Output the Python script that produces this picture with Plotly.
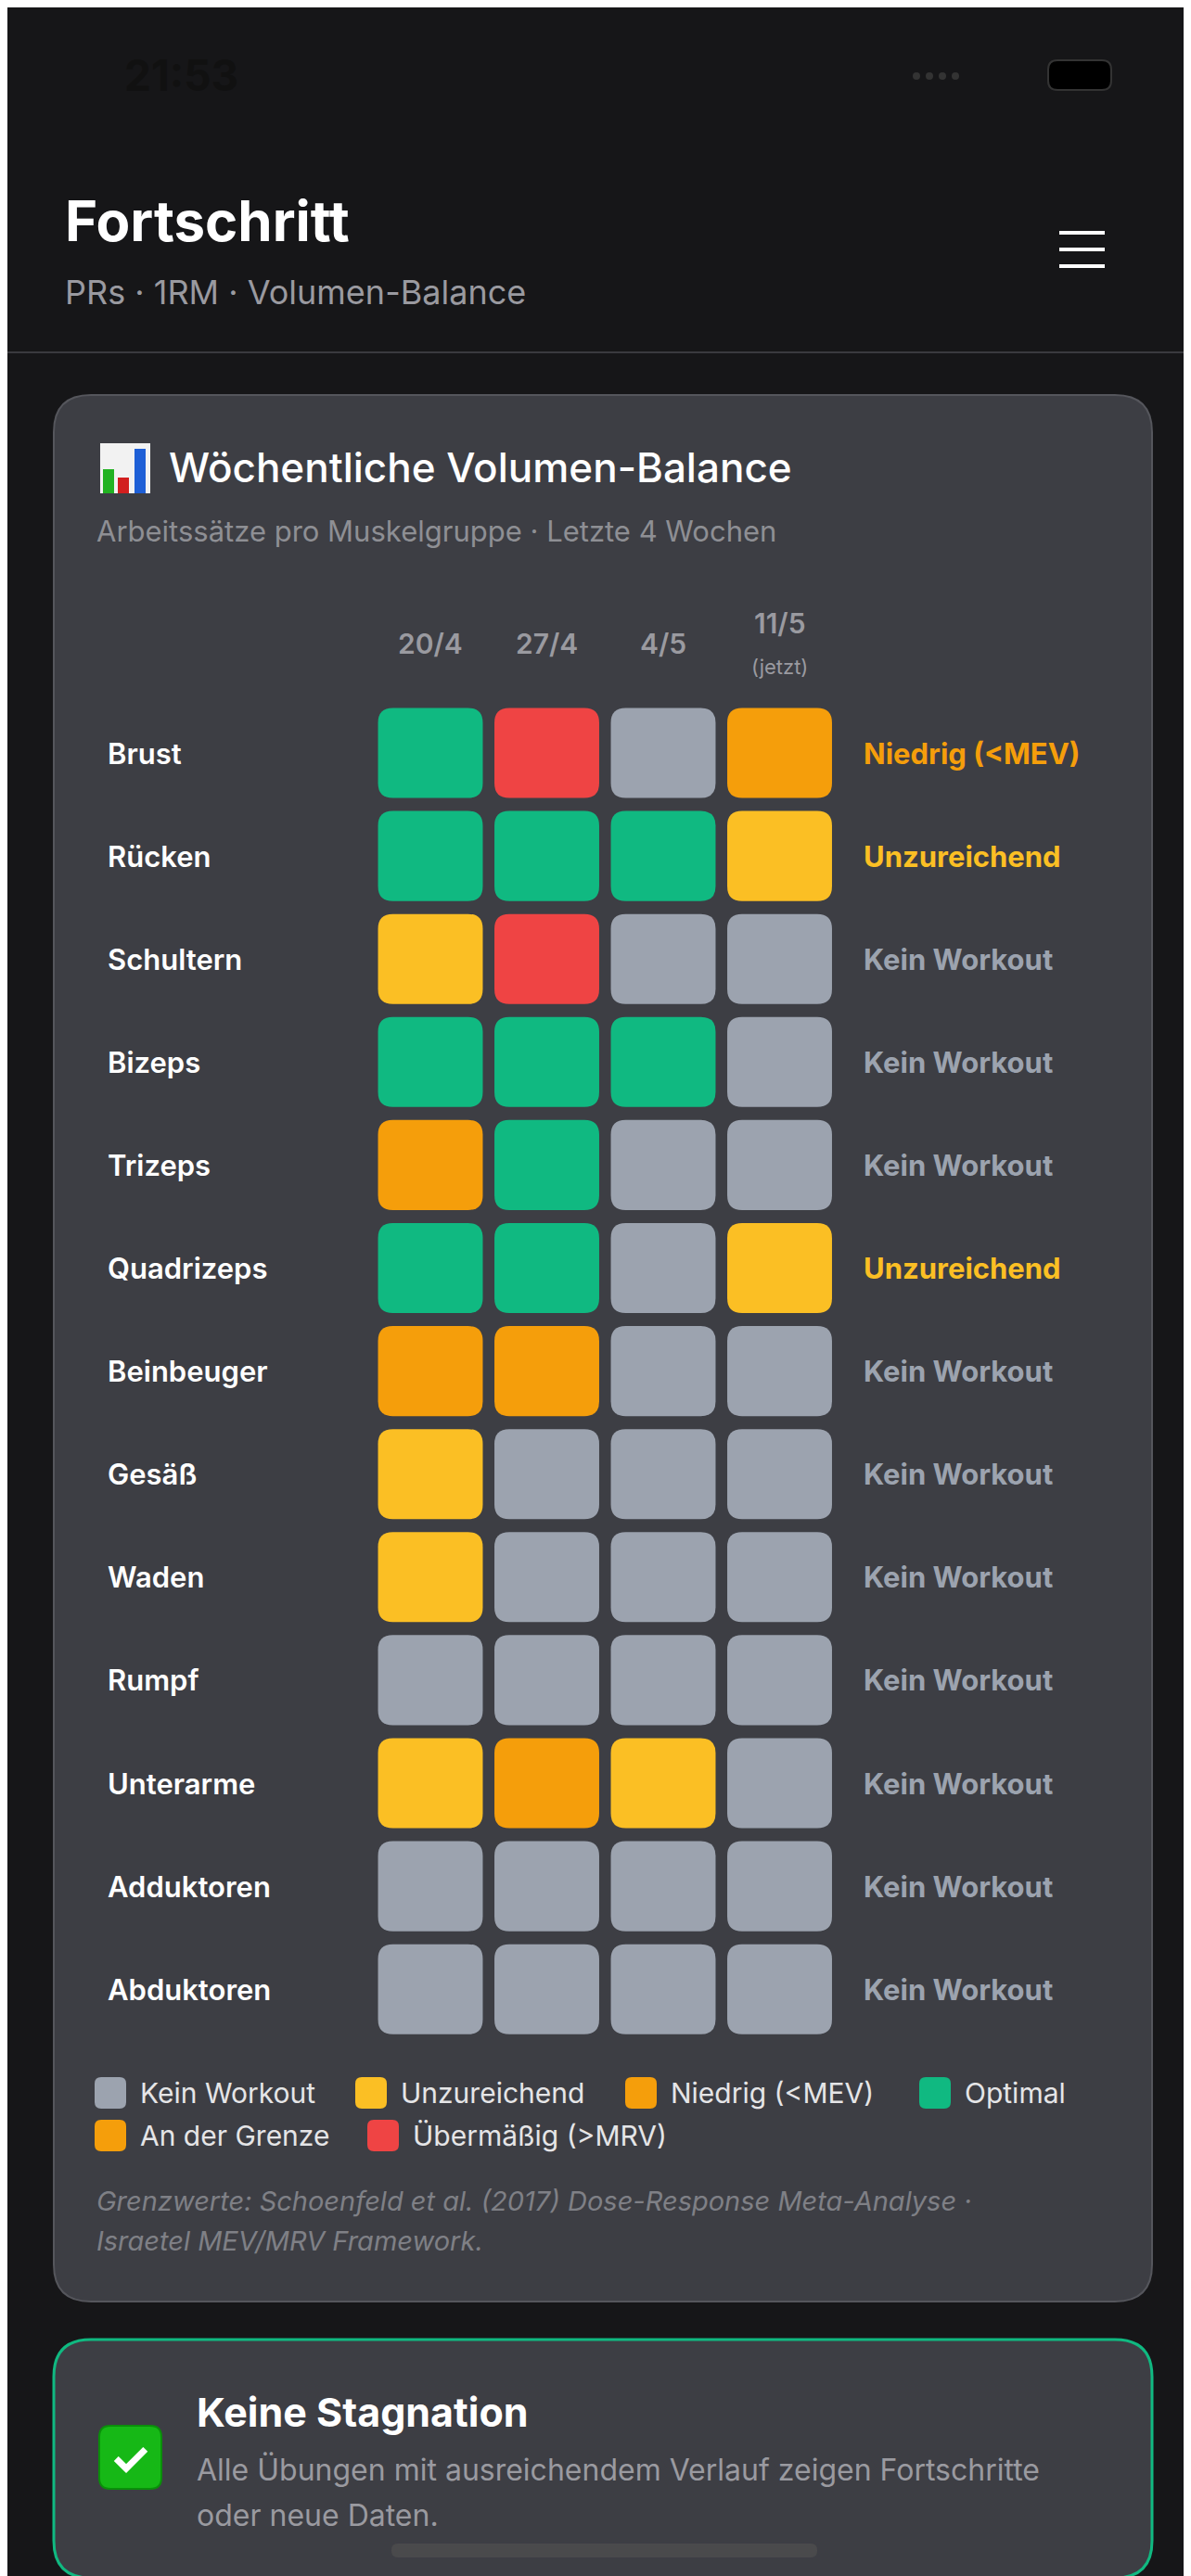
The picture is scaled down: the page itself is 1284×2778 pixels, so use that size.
import plotly.graph_objects as go

# ---- data ----
weeks = ["20/4", "27/4", "4/5", "11/5"]
muscles = ["Brust", "Rücken", "Schultern", "Bizeps", "Trizeps", "Quadrizeps",
           "Beinbeuger", "Gesäß", "Waden", "Rumpf", "Unterarme", "Adduktoren", "Abduktoren"]
sets = [
    [12, 28, 0, 5],
    [15, 20, 16, 1],
    [4, 27, 0, 0],
    [11, 11, 11, 0],
    [9, 16, 0, 0],
    [11, 13, 0, 3],
    [8, 8, 0, 0],
    [3, 0, 0, 0],
    [4, 0, 0, 0],
    [0, 0, 0, 0],
    [4, 6, 4, 0],
    [0, 0, 0, 0],
    [0, 0, 0, 0],
]
# K=Kein Workout, U=Unzureichend, N=Niedrig, O=Optimal, G=An der Grenze, X=Übermäßig
levels = [
    "OXKN", "OOOU", "UXKK", "OOOK", "GOKK", "OOKU", "GGKK",
    "UKKK", "UKKK", "KKKK", "UGUK", "KKKK", "KKKK",
]
status = ["Niedrig (<MEV)", "Unzureichend", "Kein Workout", "Kein Workout", "Kein Workout",
          "Unzureichend", "Kein Workout", "Kein Workout", "Kein Workout", "Kein Workout",
          "Kein Workout", "Kein Workout", "Kein Workout"]
legend_items = [("K", "Kein Workout"), ("U", "Unzureichend"), ("N", "Niedrig (<MEV)"),
                ("O", "Optimal"), ("G", "An der Grenze"), ("X", "Übermäßig (>MRV)")]

colors = {"K": "#9ca3af", "U": "#fbbf24", "N": "#f59e0b", "O": "#10b981",
          "G": "#f59e0b", "X": "#ef4444"}
status_colors = {"Niedrig (<MEV)": "#f59e0b", "Unzureichend": "#fbbf24", "Kein Workout": "#9ca3af"}

W, H = 1284, 2778
BG = "#161618"
CARD = "#3d3e44"
FONT = "Inter, Noto Sans, sans-serif"

fig = go.Figure()
shapes = []
ann = []


def rrect(x0, y0, x1, y1, rx, ry):
    return (f"M{x0+rx},{y0} L{x1-rx},{y0} Q{x1},{y0} {x1},{y0+ry} L{x1},{y1-ry} "
            f"Q{x1},{y1} {x1-rx},{y1} L{x0+rx},{y1} Q{x0},{y1} {x0},{y1-ry} "
            f"L{x0},{y0+ry} Q{x0},{y0} {x0+rx},{y0} Z")


def text(x, y, s, size, color, weight="normal", xanchor="left", style="normal", yref="y", xref="x"):
    ann.append(dict(x=x, y=y, xref=xref, yref=yref, text=s, showarrow=False,
                    xanchor=xanchor, yanchor="middle",
                    font=dict(family=FONT, size=size, color=color, weight=weight, style=style)))


# status bar
text(124, 73, "21:53", 46, "#111", "bold")
for i in range(4):
    shapes.append(dict(type="circle", xref="x", yref="y", x0=976 + i * 14, x1=984 + i * 14,
                       y0=70, y1=78, fillcolor="#333", line_width=0))
shapes.append(dict(type="path", xref="x", yref="y", path=rrect(1122, 57, 1190, 89, 10, 10),
                   fillcolor="#000", line=dict(color="#333", width=2)))

# header
text(60, 230, "Fortschritt", 60, "#ffffff", "bold")
text(60, 307, "PRs · 1RM · Volumen-Balance", 36, "#9a9aa0")
for yy in [243, 261, 279]:
    shapes.append(dict(type="line", xref="x", yref="y", x0=1134, x1=1183, y0=yy, y1=yy,
                       line=dict(color="#ffffff", width=4)))
shapes.append(dict(type="line", xref="x", yref="y", x0=0, x1=W, y0=372, y1=372,
                   line=dict(color="#3a3a3e", width=2)))

# main card
shapes.append(dict(type="path", xref="x", yref="y", path=rrect(50, 418, 1234, 2474, 40, 40),
                   fillcolor=CARD, line=dict(color="#55565c", width=2), layer="below"))
# chart icon
shapes.append(dict(type="rect", xref="x", yref="y", x0=100, x1=154, y0=470, y1=524,
                   fillcolor="#f2f2f2", line_width=0))
for bx, by, bc in [(103, 498, "#22b222"), (119, 507, "#d21f1f"), (137, 476, "#1e5fd6")]:
    shapes.append(dict(type="rect", xref="x", yref="y", x0=bx, x1=bx + 12, y0=by, y1=524,
                       fillcolor=bc, line_width=0))
text(172, 496, "Wöchentliche Volumen-Balance", 44, "#ffffff", 500)
text(94, 564, "Arbeitssätze pro Muskelgruppe · Letzte 4 Wochen", 31, "#8e8f94")

# grid (x2 = column index, y2 = row index)
for j, w in enumerate(weeks):
    if j == len(weeks) - 1:
        ann.append(dict(x=j, y=664, xref="x2", yref="y", text=w, showarrow=False,
                        font=dict(family=FONT, size=30, color="#9a9aa0", weight=600)))
        ann.append(dict(x=j, y=711, xref="x2", yref="y", text="(jetzt)", showarrow=False,
                        font=dict(family=FONT, size=22, color="#9a9aa0")))
    else:
        ann.append(dict(x=j, y=686, xref="x2", yref="y", text=w, showarrow=False,
                        font=dict(family=FONT, size=30, color="#9a9aa0", weight=600)))

hx, hy = 0.45, 0.437
rx, ry = 16 / 125.5, 16 / 111.1
cx, cy, ct = [], [], []
for i, m in enumerate(muscles):
    text(106, i, m, 31, "#ffffff", 600, yref="y2")
    text(921, i, status[i], 31, status_colors[status[i]], "bold", yref="y2")
    for j in range(len(weeks)):
        shapes.append(dict(type="path", xref="x2", yref="y2",
                           path=rrect(j - hx, i - hy, j + hx, i + hy, rx, ry),
                           fillcolor=colors[levels[i][j]], line_width=0))
        cx.append(j)
        cy.append(i)
        ct.append(str(sets[i][j]))

fig.add_trace(go.Scatter(x=[c + 0.02 for c in cx], y=[c + 0.03 for c in cy], text=ct, mode="text",
                         xaxis="x2", yaxis="y2", hoverinfo="skip",
                         textfont=dict(family=FONT, size=35, color="rgba(0,0,0,0.35)", weight="bold")))
fig.add_trace(go.Scatter(x=cx, y=cy, text=ct, mode="text", xaxis="x2", yaxis="y2",
                         textfont=dict(family=FONT, size=35, color="#ffffff", weight="bold")))

# legend
leg_pos = [(94, 2249), (375, 2249), (666, 2249), (983, 2249), (94, 2295), (388, 2295)]
for (code, label), (lx, ly) in zip(legend_items, leg_pos):
    shapes.append(dict(type="path", xref="x", yref="y", path=rrect(lx, ly - 17, lx + 34, ly + 17, 7, 7),
                       fillcolor=colors[code], line_width=0))
    text(lx + 47, ly, label, 30, "#e5e5e7")

text(94, 2365, "Grenzwerte: Schoenfeld et al. (2017) Dose-Response Meta-Analyse ·", 29, "#7f8086", style="italic")
text(94, 2408, "Israetel MEV/MRV Framework.", 29, "#7f8086", style="italic")

# second card
shapes.append(dict(type="path", xref="x", yref="y", path=rrect(50, 2515, 1234, 2772, 40, 40),
                   fillcolor=CARD, line=dict(color="#10b981", width=3), layer="below"))
shapes.append(dict(type="path", xref="x", yref="y", path=rrect(99, 2608, 166, 2676, 12, 12),
                   fillcolor="#16b816", line=dict(color="#0a8f0a", width=2)))
text(132, 2643, "✓", 50, "#ffffff", "bold", xanchor="center")
text(202, 2593, "Keine Stagnation", 43, "#ffffff", "bold")
text(202, 2655, "Alle Übungen mit ausreichendem Verlauf zeigen Fortschritte", 32, "#9a9aa0")
text(202, 2704, "oder neue Daten.", 32, "#9a9aa0")
shapes.append(dict(type="path", xref="x", yref="y", path=rrect(414, 2735, 873, 2750, 7, 7),
                   fillcolor="#4a4a4c", line_width=0))

fig.update_layout(
    width=W, height=H, margin=dict(l=0, r=0, t=0, b=0),
    paper_bgcolor=BG, plot_bgcolor=BG, showlegend=False,
    shapes=shapes, annotations=ann,
    xaxis=dict(range=[0, W], visible=False, fixedrange=True),
    yaxis=dict(range=[H, 0], visible=False, fixedrange=True),
    xaxis2=dict(range=[(0 - 456) / 125.5, (W - 456) / 125.5], overlaying="x", visible=False),
    yaxis2=dict(range=[(H - 804) / 111.1, (0 - 804) / 111.1], overlaying="y", visible=False),
)

fig.write_html("out.html")
